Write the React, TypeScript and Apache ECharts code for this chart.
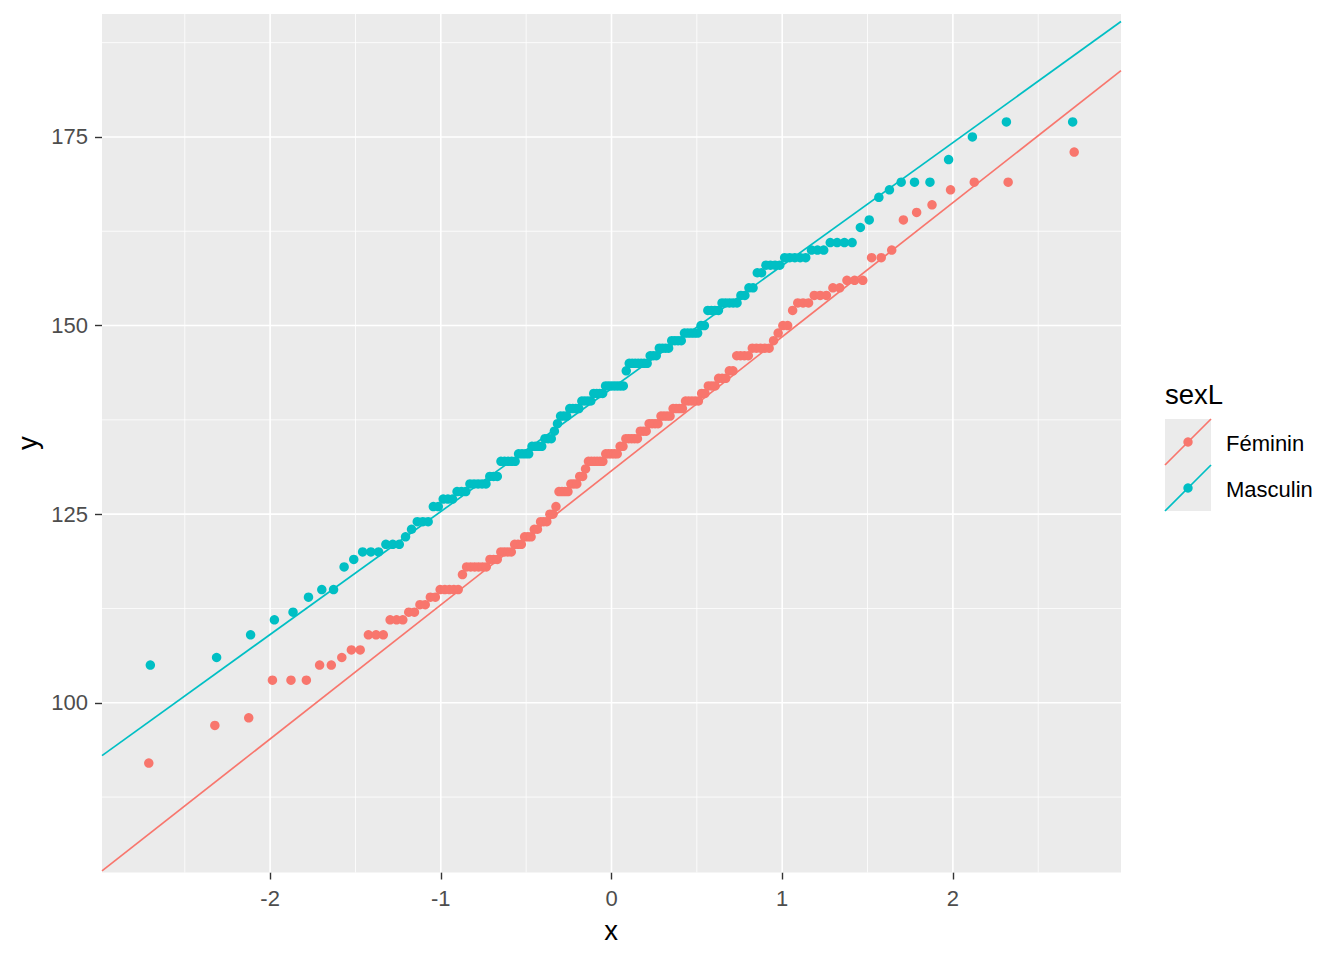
import { useEffect, useRef } from "react";
import * as echarts from "echarts";

// Sorted sample values (one value per point)
const femininValues = [
  92, 97, 98, 103, 103, 103, 105, 105, 106, 107, 107, 109, 109, 109, 111, 111, 111,
  112, 112, 113, 113, 114, 114, 115, 115, 115, 115, 115, 117,
  118, 118, 118, 118, 118, 118, 119, 119, 119, 120, 120, 120, 120,
  121, 121, 121, 122, 122, 122, 123, 123, 124, 124, 124, 125, 125, 126,
  128, 128, 128, 128, 129, 129, 129, 130, 130, 131,
  132, 132, 132, 132, 132, 132, 133, 133, 133, 133, 133, 134, 134,
  135, 135, 135, 135, 135, 136, 136, 136, 137, 137, 137, 137,
  138, 138, 138, 138, 139, 139, 139, 139, 140, 140, 140, 140, 140,
  141, 141, 142, 142, 142, 143, 143, 143, 144, 144,
  146, 146, 146, 146, 147, 147, 147, 147, 147, 148, 149, 150, 150,
  152, 153, 153, 153, 154, 154, 154, 155, 155, 156, 156, 156,
  159, 159, 160, 164, 165, 166, 168, 169, 169, 173,
];

const masculinValues = [
  105, 106, 109, 111, 112, 114, 115, 115, 118, 119, 120, 120, 120,
  121, 121, 121, 122, 123, 124, 124, 124, 126, 126, 127, 127, 127,
  128, 128, 128, 129, 129, 129, 129, 129, 130, 130, 130,
  132, 132, 132, 132, 132, 133, 133, 133, 133, 134, 134, 134, 134,
  135, 135, 135, 136, 137, 138, 138, 138, 139, 139, 139, 139,
  140, 140, 140, 140, 141, 141, 141, 141, 142, 142, 142, 142, 142, 142, 142,
  144, 145, 145, 145, 145, 145, 145, 145, 146, 146, 146,
  147, 147, 147, 147, 148, 148, 148, 148, 149, 149, 149, 149, 149, 150, 150,
  152, 152, 152, 152, 153, 153, 153, 153, 153, 154, 154, 155, 155,
  157, 157, 158, 158, 158, 158, 159, 159, 159, 159, 159, 160, 160, 160,
  161, 161, 161, 161, 163, 164, 167, 168, 169, 169, 169, 172, 175, 177, 177,
];

const groupNames = ["Féminin", "Masculin"];
const groupColors = ["#F8766D", "#00BFC4"];
// Reference lines (intercept, slope)
const lineIntercepts = [130.75, 141.65];
const lineSlopes = [17.77, 16.3];

const xLimits = [-2.985, 2.985];
const yLimits = [77.5, 191.3];
const xMajorTicks = [-2, -1, 0, 1, 2];
const xMinorTicks = [-2.5, -1.5, -0.5, 0.5, 1.5, 2.5];
const yMajorTicks = [100, 125, 150, 175];
const yMinorTicks = [87.5, 112.5, 137.5, 162.5, 187.5];

const FONT = "'Liberation Sans', Arial, sans-serif";

// Inverse standard normal CDF (Acklam) for theoretical quantiles
function qnorm(p: number): number {
  const a = [-3.969683028665376e1, 2.209460984245205e2, -2.759285104469687e2, 1.38357751867269e2, -3.066479806614716e1, 2.506628277459239];
  const b = [-5.447609879822406e1, 1.615858368580409e2, -1.556989798598866e2, 6.680131188771972e1, -1.328068155288572e1];
  const c = [-7.784894002430293e-3, -3.223964580411365e-1, -2.400758277161838, -2.549732539343734, 4.374664141464968, 2.938163982698783];
  const d = [7.784695709041462e-3, 3.224671290700398e-1, 2.445134137142996, 3.754408661907416];
  const pl = 0.02425;
  const ph = 1 - pl;
  if (p < pl) {
    const q = Math.sqrt(-2 * Math.log(p));
    return (((((c[0] * q + c[1]) * q + c[2]) * q + c[3]) * q + c[4]) * q + c[5]) / ((((d[0] * q + d[1]) * q + d[2]) * q + d[3]) * q + 1);
  }
  if (p <= ph) {
    const q = p - 0.5;
    const r = q * q;
    return ((((((a[0] * r + a[1]) * r + a[2]) * r + a[3]) * r + a[4]) * r + a[5]) * q) / (((((b[0] * r + b[1]) * r + b[2]) * r + b[3]) * r + b[4]) * r + 1);
  }
  const q = Math.sqrt(-2 * Math.log(1 - p));
  return -(((((c[0] * q + c[1]) * q + c[2]) * q + c[3]) * q + c[4]) * q + c[5]) / ((((d[0] * q + d[1]) * q + d[2]) * q + d[3]) * q + 1);
}

function qqPoints(values: number[]): number[][] {
  const s = [...values].sort((u, v) => u - v);
  const n = s.length;
  const a = n <= 10 ? 3 / 8 : 0.5;
  return s.map((v, i) => [qnorm((i + 1 - a) / (n + 1 - 2 * a)), v]);
}

function gridSeries(): any[] {
  const out: any[] = [];
  const mk = (data: number[][], width: number) => ({
    type: "line",
    data,
    z: 1,
    silent: true,
    symbol: "none",
    lineStyle: { color: "#FFFFFF", width },
    emphasis: { disabled: true },
  });
  xMinorTicks.forEach((v) => out.push(mk([[v, yLimits[0]], [v, yLimits[1]]], 0.8)));
  yMinorTicks.forEach((v) => out.push(mk([[xLimits[0], v], [xLimits[1], v]], 0.8)));
  xMajorTicks.forEach((v) => out.push(mk([[v, yLimits[0]], [v, yLimits[1]]], 1.6)));
  yMajorTicks.forEach((v) => out.push(mk([[xLimits[0], v], [xLimits[1], v]], 1.6)));
  return out;
}

export default function App() {
  const ref = useRef<HTMLDivElement>(null);

  useEffect(() => {
    if (!ref.current) return;
    const chart = echarts.init(ref.current, undefined, { renderer: "svg" });
    const groups = [femininValues, masculinValues];

    const pointSeries = groups.map((vals, g) => ({
      type: "scatter",
      name: groupNames[g],
      data: qqPoints(vals),
      symbol: "circle",
      symbolSize: 9.5,
      itemStyle: { color: groupColors[g], opacity: 1 },
      z: 3,
      silent: true,
      emphasis: { disabled: true },
    }));

    const lineSeries = groups.map((_, g) => ({
      type: "line",
      name: groupNames[g] + " line",
      data: xLimits.map((x) => [x, lineIntercepts[g] + lineSlopes[g] * x]),
      symbol: "none",
      lineStyle: { color: groupColors[g], width: 1.7 },
      z: 4,
      silent: true,
      clip: true,
      emphasis: { disabled: true },
    }));

    const legendItems: any[] = [
      {
        type: "rect",
        shape: { x: 1165, y: 419, width: 46, height: 92 },
        style: { fill: "#EBEBEB" },
        silent: true,
      },
      {
        type: "text",
        x: 1165,
        y: 394,
        style: { text: "sexL", fill: "#000000", fontSize: 27.5, fontFamily: FONT, align: "left", verticalAlign: "middle" },
        silent: true,
      },
    ];
    groupNames.forEach((name, g) => {
      const top = 419 + g * 46;
      legendItems.push({
        type: "line",
        shape: { x1: 1165, y1: top + 46, x2: 1211, y2: top },
        style: { stroke: groupColors[g], lineWidth: 1.7 },
        silent: true,
      });
      legendItems.push({
        type: "circle",
        shape: { cx: 1188, cy: top + 23, r: 4.7 },
        style: { fill: groupColors[g] },
        silent: true,
      });
      legendItems.push({
        type: "text",
        x: 1226,
        y: top + 24.5,
        style: { text: name, fill: "#000000", fontSize: 22, fontFamily: FONT, align: "left", verticalAlign: "middle" },
        silent: true,
      });
    });

    const axisCommon = {
      type: "value" as const,
      axisLine: { show: false, onZero: false },
      splitLine: { show: false },
      minorSplitLine: { show: false },
    };

    chart.setOption({
      animation: false,
      backgroundColor: "#FFFFFF",
      grid: {
        left: 102,
        right: 223,
        top: 14,
        bottom: 87.5,
        show: true,
        backgroundColor: "#EBEBEB",
        borderWidth: 0,
        containLabel: false,
        outerBoundsMode: "none",
      },
      xAxis: {
        ...axisCommon,
        min: xLimits[0],
        max: xLimits[1],
        axisTick: { show: true, length: 7, lineStyle: { color: "#333333", width: 1.4 }, customValues: xMajorTicks },
        axisLabel: {
          customValues: xMajorTicks,
          margin: 15,
          color: "#4D4D4D",
          fontSize: 22,
          fontFamily: FONT,
          formatter: (v: number) => String(v),
        },
      },
      yAxis: {
        ...axisCommon,
        min: yLimits[0],
        max: yLimits[1],
        axisTick: { show: true, length: 7, lineStyle: { color: "#333333", width: 1.4 }, customValues: yMajorTicks },
        axisLabel: {
          customValues: yMajorTicks,
          margin: 14,
          color: "#4D4D4D",
          fontSize: 22,
          fontFamily: FONT,
          formatter: (v: number) => String(v),
        },
      },
      graphic: [
        {
          type: "text",
          x: 611,
          y: 930,
          style: { text: "x", fill: "#000000", fontSize: 27.5, fontFamily: FONT, align: "center", verticalAlign: "middle" },
          silent: true,
        },
        {
          type: "text",
          x: 27,
          y: 443,
          rotation: Math.PI / 2,
          style: { text: "y", fill: "#000000", fontSize: 27.5, fontFamily: FONT, align: "center", verticalAlign: "middle" },
          silent: true,
        },
        ...legendItems,
      ],
      series: [...gridSeries(), ...pointSeries, ...lineSeries],
    });

    return () => {
      chart.dispose();
    };
  }, []);

  return (
    <div
      ref={ref}
      style={{ position: "absolute", left: 0, top: 0, width: 1344, height: 960, background: "#FFFFFF" }}
    />
  );
}
